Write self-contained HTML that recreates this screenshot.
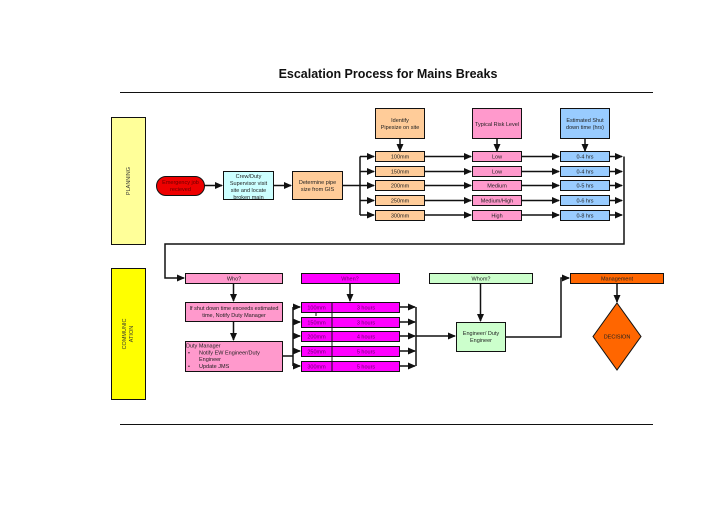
<!DOCTYPE html>
<html><head><meta charset="utf-8"><style>
html,body{margin:0;padding:0;background:#fff;}
svg{display:block;font-family:"Liberation Sans",sans-serif;}
</style></head><body>
<svg width="728" height="515" viewBox="0 0 728 515" xmlns="http://www.w3.org/2000/svg">
<defs><marker id="a" markerWidth="8" markerHeight="8" refX="7" refY="4" orient="auto" markerUnits="userSpaceOnUse"><path d="M0,0.5 L8,4 L0,7.5 Z" fill="#111"/></marker></defs>
<text x="388" y="78" font-size="12.5" font-weight="bold" text-anchor="middle" fill="#111">Escalation Process for Mains Breaks</text>
<line x1="120" y1="92.5" x2="653" y2="92.5" stroke="#111" stroke-width="1"/>
<line x1="120" y1="424.5" x2="653" y2="424.5" stroke="#111" stroke-width="1"/>
<g stroke="#111" stroke-width="1">
<rect x="111.5" y="117.5" width="34" height="127" fill="#ffff99"/>
<rect x="111.5" y="268.5" width="34" height="131" fill="#ffff00"/>
</g>
<text font-size="5.5" fill="#333" text-anchor="middle" transform="translate(130,181) rotate(-90)">PLANNING</text>
<text font-size="5.5" fill="#333" text-anchor="middle" transform="translate(126,334) rotate(-90)">COMMUNIC</text>
<text font-size="5.5" fill="#333" text-anchor="middle" transform="translate(133,334) rotate(-90)">ATION</text>
<g stroke="#111" stroke-width="1.5" fill="none">
<line x1="204" y1="185.5" x2="222" y2="185.5" marker-end="url(#a)"/>
<line x1="273" y1="185.5" x2="291" y2="185.5" marker-end="url(#a)"/>
<line x1="342" y1="185.5" x2="360" y2="185.5"/>
<line x1="360" y1="156.5" x2="360" y2="215"/>
<line x1="360" y1="156.5" x2="374" y2="156.5" marker-end="url(#a)"/>
<line x1="360" y1="171.5" x2="374" y2="171.5" marker-end="url(#a)"/>
<line x1="360" y1="185.5" x2="374" y2="185.5" marker-end="url(#a)"/>
<line x1="360" y1="200.5" x2="374" y2="200.5" marker-end="url(#a)"/>
<line x1="360" y1="215" x2="374" y2="215" marker-end="url(#a)"/>
<line x1="400" y1="138" x2="400" y2="151" marker-end="url(#a)"/>
<line x1="497" y1="138" x2="497" y2="151" marker-end="url(#a)"/>
<line x1="585" y1="138" x2="585" y2="151" marker-end="url(#a)"/>
<line x1="425" y1="156.5" x2="471" y2="156.5" marker-end="url(#a)"/>
<line x1="425" y1="171.5" x2="471" y2="171.5" marker-end="url(#a)"/>
<line x1="425" y1="185.5" x2="471" y2="185.5" marker-end="url(#a)"/>
<line x1="425" y1="200.5" x2="471" y2="200.5" marker-end="url(#a)"/>
<line x1="425" y1="215" x2="471" y2="215" marker-end="url(#a)"/>
<line x1="521" y1="156.5" x2="559" y2="156.5" marker-end="url(#a)"/>
<line x1="521" y1="171.5" x2="559" y2="171.5" marker-end="url(#a)"/>
<line x1="521" y1="185.5" x2="559" y2="185.5" marker-end="url(#a)"/>
<line x1="521" y1="200.5" x2="559" y2="200.5" marker-end="url(#a)"/>
<line x1="521" y1="215" x2="559" y2="215" marker-end="url(#a)"/>
<line x1="609" y1="156.5" x2="622" y2="156.5" marker-end="url(#a)"/>
<line x1="609" y1="171.5" x2="622" y2="171.5" marker-end="url(#a)"/>
<line x1="609" y1="185.5" x2="622" y2="185.5" marker-end="url(#a)"/>
<line x1="609" y1="200.5" x2="622" y2="200.5" marker-end="url(#a)"/>
<line x1="609" y1="215" x2="622" y2="215" marker-end="url(#a)"/>
<polyline points="624,156.5 624,244 165,244 165,278 184,278" marker-end="url(#a)"/>
<line x1="233.5" y1="283" x2="233.5" y2="301" marker-end="url(#a)"/>
<line x1="233.5" y1="321" x2="233.5" y2="340" marker-end="url(#a)"/>
<line x1="350" y1="283" x2="350" y2="301" marker-end="url(#a)"/>
<line x1="282" y1="356" x2="293" y2="356"/>
<line x1="293" y1="307" x2="293" y2="366"/>
<line x1="293" y1="307" x2="300" y2="307" marker-end="url(#a)"/>
<line x1="293" y1="322" x2="300" y2="322" marker-end="url(#a)"/>
<line x1="293" y1="336" x2="300" y2="336" marker-end="url(#a)"/>
<line x1="293" y1="351" x2="300" y2="351" marker-end="url(#a)"/>
<line x1="293" y1="366" x2="300" y2="366" marker-end="url(#a)"/>
<line x1="399" y1="307" x2="415" y2="307" marker-end="url(#a)"/>
<line x1="399" y1="322" x2="415" y2="322" marker-end="url(#a)"/>
<line x1="399" y1="336" x2="415" y2="336" marker-end="url(#a)"/>
<line x1="399" y1="351" x2="415" y2="351" marker-end="url(#a)"/>
<line x1="399" y1="366" x2="415" y2="366" marker-end="url(#a)"/>
<line x1="416" y1="307" x2="416" y2="366"/>
<line x1="416" y1="336" x2="455" y2="336" marker-end="url(#a)"/>
<line x1="480.5" y1="283" x2="480.5" y2="321" marker-end="url(#a)"/>
<polyline points="505,337 561,337 561,278 569,278" marker-end="url(#a)"/>
<line x1="617" y1="283" x2="617" y2="302" marker-end="url(#a)"/>
</g>
<g stroke="#111" stroke-width="1">
<rect x="156.5" y="176.5" width="48" height="19" rx="9.5" fill="#ee0000"/>
<rect x="223.5" y="171.5" width="50" height="28" fill="#ccffff"/>
<rect x="292.5" y="171.5" width="50" height="28" fill="#ffcc99"/>
<rect x="375.5" y="108.5" width="49" height="30" fill="#ffcc99"/>
<rect x="472.5" y="108.5" width="49" height="30" fill="#ff99cc"/>
<rect x="560.5" y="108.5" width="49" height="30" fill="#99ccff"/>
<g fill="#ffcc99">
<rect x="375.5" y="151.5" width="49" height="10"/><rect x="375.5" y="166.5" width="49" height="10"/><rect x="375.5" y="180.5" width="49" height="10"/><rect x="375.5" y="195.5" width="49" height="10"/><rect x="375.5" y="210.5" width="49" height="10"/></g>
<g fill="#ff99cc">
<rect x="472.5" y="151.5" width="49" height="10"/><rect x="472.5" y="166.5" width="49" height="10"/><rect x="472.5" y="180.5" width="49" height="10"/><rect x="472.5" y="195.5" width="49" height="10"/><rect x="472.5" y="210.5" width="49" height="10"/></g>
<g fill="#99ccff">
<rect x="560.5" y="151.5" width="49" height="10"/><rect x="560.5" y="166.5" width="49" height="10"/><rect x="560.5" y="180.5" width="49" height="10"/><rect x="560.5" y="195.5" width="49" height="10"/><rect x="560.5" y="210.5" width="49" height="10"/></g>
<rect x="185.5" y="273.5" width="97" height="10" fill="#ff99cc"/>
<rect x="185.5" y="302.5" width="97" height="19" fill="#ff99cc"/>
<rect x="185.5" y="341.5" width="97" height="30" fill="#ff99cc"/>
<rect x="301.5" y="273.5" width="98" height="10" fill="#ff00ff"/>
<g fill="#ff00ff">
<rect x="301.5" y="302.5" width="98" height="10"/><rect x="301.5" y="317.5" width="98" height="10"/><rect x="301.5" y="331.5" width="98" height="10"/><rect x="301.5" y="346.5" width="98" height="10"/><rect x="301.5" y="361.5" width="98" height="10"/></g>
<line x1="332" y1="302" x2="332" y2="372"/>
<rect x="429.5" y="273.5" width="103" height="10" fill="#ccffcc"/>
<rect x="456.5" y="322.5" width="49" height="29" fill="#ccffcc"/>
<rect x="570.5" y="273.5" width="93" height="10" fill="#ff6600"/>
<polygon points="617,303 641,336.5 617,370 593,336.5" fill="#ff6600"/>
</g>
<line x1="316" y1="312" x2="316" y2="316" stroke="#111"/>
<g font-size="5.5" fill="#222" text-anchor="middle">
<text x="180.5" y="184" fill="#600">Emergency job</text><text x="180.5" y="191" fill="#600">recieved</text>
<text x="248.5" y="178">Crew/Duty</text><text x="248.5" y="185">Supervisor visit</text><text x="248.5" y="192">site and locate</text><text x="248.5" y="199">broken main</text>
<text x="317.5" y="184">Determine pipe</text><text x="317.5" y="191">size from GIS</text>
<text x="400" y="122">Identify</text><text x="400" y="129">Pipesize on site</text>
<text x="497" y="126">Typical Risk Level</text>
<text x="585" y="122">Estimated Shut</text><text x="585" y="129">down time (hrs)</text>
<text x="400" y="158.5">100mm</text><text x="400" y="173.5">150mm</text><text x="400" y="187.5">200mm</text><text x="400" y="202.5">250mm</text><text x="400" y="217.5">300mm</text>
<text x="497" y="158.5">Low</text><text x="497" y="173.5">Low</text><text x="497" y="187.5">Medium</text><text x="497" y="202.5">Medium/High</text><text x="497" y="217.5">High</text>
<text x="585" y="158.5">0-4 hrs</text><text x="585" y="173.5">0-4 hrs</text><text x="585" y="187.5">0-5 hrs</text><text x="585" y="202.5">0-6 hrs</text><text x="585" y="217.5">0-8 hrs</text>
<text x="234" y="280.5">Who?</text>
<text x="234" y="310">If shut down time exceeds estimated</text><text x="234" y="317">time, Notify Duty Manager</text>
<text x="350" y="280.5" fill="#606">When?</text>
<text x="316.5" y="309.5" fill="#606">100mm</text><text x="316.5" y="324.5" fill="#606">150mm</text><text x="316.5" y="338.5" fill="#606">200mm</text><text x="316.5" y="353.5" fill="#606">250mm</text><text x="316.5" y="368.5" fill="#606">300mm</text>
<text x="366" y="309.5" fill="#606">3 hours</text><text x="366" y="324.5" fill="#606">3 hours</text><text x="366" y="338.5" fill="#606">4 hours</text><text x="366" y="353.5" fill="#606">5 hours</text><text x="366" y="368.5" fill="#606">5 hours</text>
<text x="481" y="280.5">Whom?</text>
<text x="481" y="335">Engineer/ Duty</text><text x="481" y="342">Engineer</text>
<text x="617" y="280.5">Management</text>
<text x="617" y="338.5">DECISION</text>
</g>
<g font-size="5.5" fill="#222">
<text x="186" y="347.5">Duty Manager</text>
<text x="188" y="354.5">•</text><text x="199" y="354.5">Notify EW Engineer/Duty</text>
<text x="199" y="361">Engineer</text>
<text x="188" y="368">•</text><text x="199" y="368">Update JMS</text>
</g>
</svg>
</body></html>
